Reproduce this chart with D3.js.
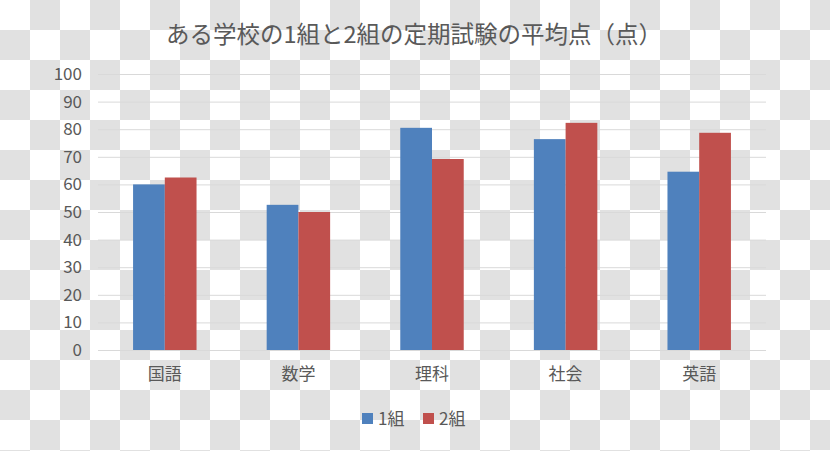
<!DOCTYPE html>
<html>
<head>
<meta charset="utf-8">
<script src="https://cdn.jsdelivr.net/npm/d3@7"></script>
<style>
  html, body { margin: 0; padding: 0; background: #ffffff; }
  svg { display: block; }
  text { font-family: "Noto Sans CJK JP", "Noto Sans", sans-serif; fill: #595959; }
</style>
</head>
<body>
<div id="chart"></div>
<script>
// chart data
var chartTitle = "ある学校の1組と2組の定期試験の平均点（点）";
var subjects = ["国語", "数学", "理科", "社会", "英語"];
var seriesNames = ["1組", "2組"];
var class1 = [60, 52.6, 80.5, 76.4, 64.6];
var class2 = [62.5, 50, 69.2, 82.3, 78.7];
var yTicks = [0, 10, 20, 30, 40, 50, 60, 70, 80, 90, 100];

var colors = ["#4f81bd", "#c0504d"];
var width = 830, height = 451;
var margin = { top: 74, right: 64, bottom: 101, left: 98 };

var svg = d3.select("#chart")
  .append("svg")
  .attr("width", width)
  .attr("height", height);

// transparent-looking checkerboard background
var defs = svg.append("defs");
var pat = defs.append("pattern")
  .attr("id", "checker")
  .attr("width", 60)
  .attr("height", 60)
  .attr("patternUnits", "userSpaceOnUse");
pat.append("rect").attr("width", 60).attr("height", 60).attr("fill", "#ffffff");
pat.append("rect").attr("x", 30).attr("y", 0).attr("width", 30).attr("height", 30).attr("fill", "#e1e1e1");
pat.append("rect").attr("x", 0).attr("y", 30).attr("width", 30).attr("height", 30).attr("fill", "#e1e1e1");
svg.append("rect").attr("width", width).attr("height", height).attr("fill", "url(#checker)");

var plotW = width - margin.left - margin.right;
var plotH = height - margin.top - margin.bottom;

var g = svg.append("g")
  .attr("transform", "translate(" + margin.left + "," + margin.top + ")");

var yScale = d3.scaleLinear().domain([0, 100]).range([plotH, 0]);

var xScale = d3.scaleBand()
  .domain(subjects)
  .range([0, plotW])
  .paddingInner(0.525)
  .paddingOuter(0.2625);

var xInner = d3.scaleBand()
  .domain(seriesNames)
  .range([0, xScale.bandwidth()])
  .padding(0);

// gridlines
var yAxis = g.append("g")
  .attr("class", "y axis")
  .call(d3.axisLeft(yScale).tickValues(yTicks).tickSize(-plotW).tickPadding(16));
yAxis.select(".domain").remove();
yAxis.selectAll("line").attr("stroke", "#d9d9d9");
yAxis.selectAll("text")
  .style("font-size", "17px")
  .attr("fill", "#595959");

// bars
var rows = subjects.map(function (s, i) {
  return { subject: s, values: [class1[i], class2[i]] };
});

var groups = g.selectAll(".grp")
  .data(rows)
  .enter()
  .append("g")
  .attr("class", "grp")
  .attr("transform", function (d) { return "translate(" + xScale(d.subject) + ",0)"; });

groups.selectAll("rect")
  .data(function (d) {
    return d.values.map(function (v, j) { return { name: seriesNames[j], value: v, idx: j }; });
  })
  .enter()
  .append("rect")
  .attr("x", function (d) { return xInner(d.name); })
  .attr("y", function (d) { return yScale(d.value); })
  .attr("width", xInner.bandwidth())
  .attr("height", function (d) { return plotH - yScale(d.value); })
  .attr("fill", function (d) { return colors[d.idx]; });

// x axis labels
var xAxis = g.append("g")
  .attr("class", "x axis")
  .attr("transform", "translate(0," + plotH + ")")
  .call(d3.axisBottom(xScale).tickSize(0).tickPadding(18));
xAxis.select(".domain").remove();
xAxis.selectAll("text")
  .style("font-size", "17px")
  .attr("fill", "#595959");

// title
svg.append("text")
  .attr("x", 414)
  .attr("y", 43)
  .attr("text-anchor", "middle")
  .style("font-size", "23.5px")
  .text(chartTitle);

// legend
var legendX = [362, 423];
var legend = svg.selectAll(".legend")
  .data(seriesNames)
  .enter()
  .append("g")
  .attr("class", "legend")
  .attr("transform", function (d, i) { return "translate(" + legendX[i] + ",413)"; });
legend.append("rect")
  .attr("width", 11)
  .attr("height", 11)
  .attr("fill", function (d, i) { return colors[i]; });
legend.append("text")
  .attr("x", 16)
  .attr("y", 12)
  .style("font-size", "17px")
  .text(function (d) { return d; });
</script>
</body>
</html>
